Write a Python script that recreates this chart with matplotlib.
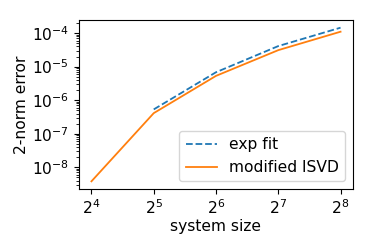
import matplotlib
matplotlib.use("Agg")
import matplotlib.pyplot as plt

sizes_fit = [32, 64, 128, 256]
err_fit = [5.3e-7, 6.8e-6, 4.1e-5, 1.45e-4]
sizes = [16, 32, 64, 128, 256]
err_isvd = [3.8e-9, 4.1e-7, 5.3e-6, 3.1e-5, 1.1e-4]

plt.rcParams['font.size'] = 11.2
fig = plt.figure(figsize=(3.74, 2.49), dpi=100)
ax = fig.add_axes([79/374, 1-189/249, (353-79)/374, (189-20)/249])
ax.plot(sizes_fit, err_fit, '--', color='tab:blue', label='exp fit', lw=1.3)
ax.plot(sizes, err_isvd, '-', color='tab:orange', label='modified ISVD', lw=1.3)
ax.set_xscale('log', base=2)
ax.set_yscale('log')
ax.set_xticks(sizes)
ax.set_xlabel('system size', labelpad=1)
ax.set_ylabel('2-norm error', labelpad=2)
ax.legend(loc='lower right')
fig.savefig('out.png', dpi=100)
